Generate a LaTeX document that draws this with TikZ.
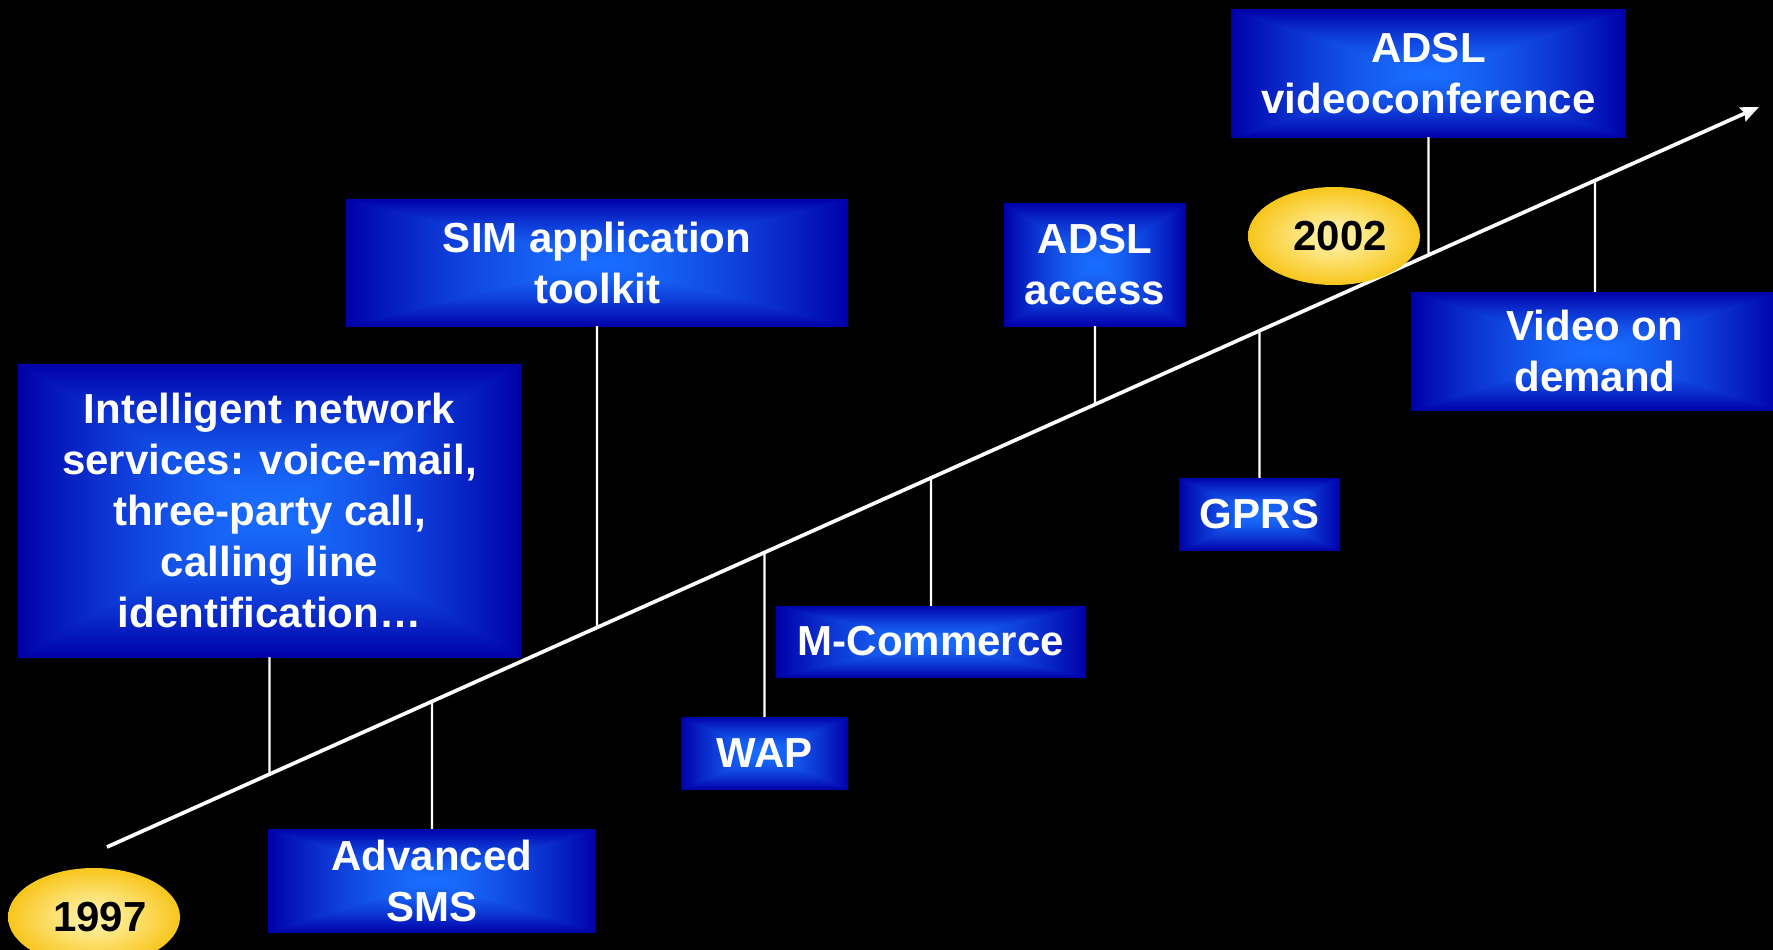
\documentclass[tikz,border=0pt]{standalone}
\usepackage{fontspec}
\setmainfont{Liberation Sans}
\usetikzlibrary{arrows.meta,shapes.geometric}

% rectangular "from centre" glow: light blue centre, deep blue rim
\pgfdeclarefunctionalshading{boxglow}{\pgfpoint{-50bp}{-50bp}}{\pgfpoint{50bp}{50bp}}{}{
  abs exch abs
  2 copy lt {exch} if pop
  25 div dup 1 gt {pop 1} if
  1.5 exp
  dup 0.10 mul 0.10 exch sub
  exch dup 0.43 mul 0.43 exch sub
  exch 0.34 mul 1 exch sub
}

\definecolor{ylite}{RGB}{255,236,150}
\definecolor{ygold}{RGB}{247,198,28}
\pgfdeclareradialshading{yearglow}{\pgfpoint{0bp}{0bp}}{color(0bp)=(ylite); color(6bp)=(ylite); color(25bp)=(ygold); color(50bp)=(ygold)}

\tikzset{
  box/.style={rectangle, shading=boxglow, inner sep=0pt, align=center,
    text=white, font=\fontsize{42}{51}\selectfont\bfseries},
  yearnode/.style={ellipse, shading=yearglow, inner sep=0pt,
    minimum width=172, minimum height=98,
    text=black, font=\fontsize{42}{51}\selectfont\bfseries},
  link/.style={draw=white, line width=2.2pt},
  timeline/.style={draw=white, line width=3.7pt,
    -{Stealth[length=18pt, width=15pt, inset=2.5pt]}}
}

\begin{document}
\begin{tikzpicture}[x=1pt, y=-1pt]
  \useasboundingbox (0,0) rectangle (1773,950);
  \fill[black] (0,0) rectangle (1773,950);

  % timeline
  \coordinate (t0) at (107,847);
  \coordinate (t1) at (1759,107);
  \draw[timeline] (t0) -- (t1);

  % milestones above the timeline
  \node[box, minimum width=503, minimum height=293] (intel) at (269.5,510.5)
    {Intelligent network\\services: voice-mail,\\three-party call,\\calling line\\identification\dots};
  \node[box, minimum width=502, minimum height=127] (sim) at (597,262.5)
    {SIM application\\toolkit};
  \node[box, minimum width=182, minimum height=123] (adslacc) at (1095,264.5)
    {ADSL\\access};
  \node[box, minimum width=395, minimum height=127] (adslvid) at (1428.5,73.5)
    {ADSL\\videoconference};

  % milestones below the timeline
  \node[box, minimum width=328, minimum height=103] (sms) at (432,880.5)
    {Advanced\\SMS};
  \node[box, minimum width=167, minimum height=72] (wap) at (764.5,753)
    {WAP};
  \node[box, minimum width=310, minimum height=71] (mcom) at (931,641.5)
    {M-Commerce};
  \node[box, minimum width=161, minimum height=72] (gprs) at (1259.5,514)
    {GPRS};
  \node[box, minimum width=368, minimum height=118] (vod) at (1595,351)
    {Video on\\demand};

  % years
  \node[yearnode] (y1997) at (94,917) {\hspace*{12pt}1997};
  \node[yearnode] (y2002) at (1334,236) {\hspace*{12pt}2002};

  % drop lines to the timeline
  \foreach \b in {intel,sim,adslacc,adslvid}
    \draw[link] (\b.south) -- (intersection of t0--t1 and \b.south--\b.north);
  \foreach \b in {sms,wap,mcom,gprs,vod}
    \draw[link] (\b.north) -- (intersection of t0--t1 and \b.south--\b.north);
\end{tikzpicture}
\end{document}
